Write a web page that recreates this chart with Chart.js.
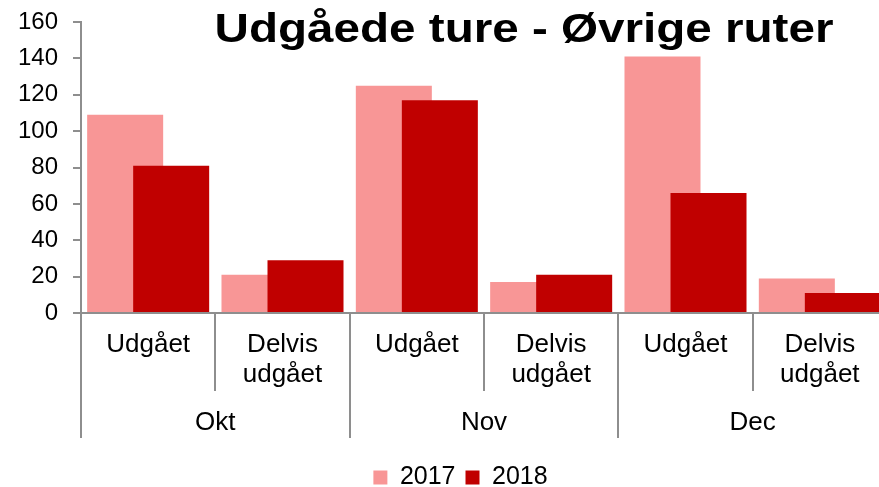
<!DOCTYPE html>
<html>
<head>
<meta charset="utf-8">
<script src="https://cdn.jsdelivr.net/npm/chart.js@4/dist/chart.umd.min.js"></script>
<style>
  html, body { margin: 0; padding: 0; overflow: hidden; background: #fff; }
  #wrap { position: absolute; left: 0; top: 0; width: 887px; height: 487px; }
</style>
</head>
<body>
<div id="wrap"><canvas id="c" width="887" height="487"></canvas></div>
<script>
// Data
const titleText = 'Udgåede ture - Øvrige ruter';
const months = ['Okt', 'Nov', 'Dec'];
const kinds = [['Udgået'], ['Delvis', 'udgået']];
const seriesNames = ['2017', '2018'];
const values2017 = [109, 21, 125, 17, 141, 19];
const values2018 = [81, 29, 117, 21, 66, 11];
const yMin = 0, yMax = 160, yStep = 20;

// Styling
const FONT = '"Liberation Sans", Arial, sans-serif';
const axisGrey = '#8e8e8e';
const colors = ['#F89696', '#C00000'];

const labels = months.flatMap(() => kinds);

// Later datasets are painted over earlier ones (2018 over 2017)
const paintInOrder = {
  id: 'paintInOrder',
  beforeDatasetsDraw(chart) {
    const metas = chart.getSortedVisibleDatasetMetas();
    for (const meta of metas) chart._drawDataset(meta);
    return false;
  }
};

// Month row under the category labels, with its separators
const monthAxis = {
  id: 'monthAxis',
  afterDraw(chart) {
    const x = chart.scales.x;
    const ctx = chart.ctx;
    const per = kinds.length;
    const top = chart.chartArea.bottom;
    ctx.save();
    ctx.strokeStyle = axisGrey;
    ctx.lineWidth = 2;
    for (let g = 0; g <= months.length; g++) {
      const px = Math.round(x.getPixelForValue(g * per - 0.5));
      ctx.beginPath();
      ctx.moveTo(px, top);
      ctx.lineTo(px, 438);
      ctx.stroke();
    }
    ctx.fillStyle = '#000';
    ctx.font = '26px ' + FONT;
    ctx.textAlign = 'center';
    ctx.textBaseline = 'alphabetic';
    months.forEach((m, g) => {
      const cx = x.getPixelForValue(g * per + (per - 1) / 2);
      ctx.fillText(m, cx, 430);
    });
    ctx.restore();
  }
};

// Heading drawn over the top of the plot
const heading = {
  id: 'heading',
  afterDraw(chart) {
    const ctx = chart.ctx;
    ctx.save();
    ctx.fillStyle = '#000';
    ctx.font = 'bold 40px ' + FONT;
    ctx.textAlign = 'center';
    ctx.textBaseline = 'alphabetic';
    ctx.translate(524, 42);
    ctx.scale(1.19, 1);
    ctx.fillText(titleText, 0, 0);
    ctx.restore();
  }
};

new Chart(document.getElementById('c'), {
  type: 'bar',
  data: {
    labels: labels,
    datasets: [
      { label: seriesNames[0], data: values2017, backgroundColor: colors[0], borderWidth: 0 },
      { label: seriesNames[1], data: values2018, backgroundColor: colors[1], borderWidth: 0 }
    ]
  },
  options: {
    responsive: false,
    animation: false,
    devicePixelRatio: 1,
    categoryPercentage: 0.685,
    barPercentage: 1.652,
    layout: { padding: { top: 22, left: 34, right: 0, bottom: -13 } },
    plugins: {
      tooltip: { enabled: false },
      title: { display: false },
      legend: {
        position: 'bottom',
        labels: {
          color: '#000',
          font: { family: FONT, size: 25 },
          boxWidth: 14,
          boxHeight: 14,
          padding: 10
        }
      }
    },
    scales: {
      x: {
        offset: true,
        grid: { offset: true, drawOnChartArea: false, drawTicks: true, tickLength: 78, color: axisGrey, lineWidth: 2 },
        border: { color: axisGrey, width: 2 },
        ticks: {
          color: '#000',
          font: { family: FONT, size: 26, lineHeight: 1.15 },
          padding: -61,
          maxRotation: 0,
          minRotation: 0,
          autoSkip: false
        },
        afterFit(scale) { scale.height = 142; }
      },
      y: {
        min: yMin,
        max: yMax,
        ticks: {
          stepSize: yStep,
          color: '#000',
          font: { family: FONT, size: 24 },
          mirror: true,
          crossAlign: 'far',
          padding: -63
        },
        grid: { drawOnChartArea: false, drawTicks: true, tickLength: 8, color: axisGrey, lineWidth: 2 },
        border: { color: axisGrey, width: 2 },
        afterFit(scale) { scale.width = 47; }
      }
    }
  },
  plugins: [paintInOrder, monthAxis, heading]
});
</script>
</body>
</html>
